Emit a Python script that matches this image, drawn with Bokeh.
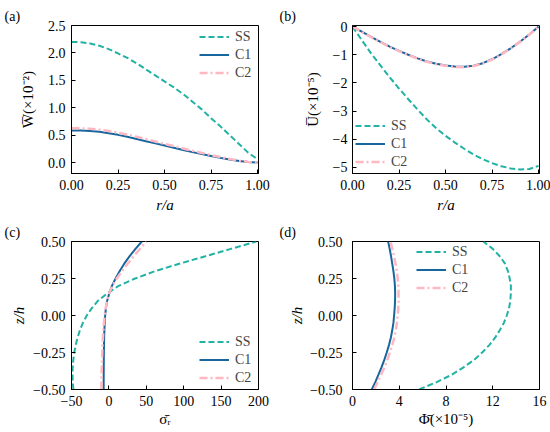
from bokeh.plotting import figure
from bokeh.models import FixedTicker, CustomJSTickFormatter, Title, Legend, LegendItem, Range1d
from bokeh.layouts import gridplot
from bokeh.embed import file_html
from bokeh.resources import INLINE

FONT = "Liberation Serif"
SS_COLOR = "#22B2A4"
C1_COLOR = "#17669E"
C2_COLOR = "#FFB8C2"

# ---- data ----
r_a = [0.00, 0.05, 0.10, 0.15, 0.20, 0.25, 0.30, 0.35, 0.40, 0.45, 0.50,
       0.55, 0.60, 0.65, 0.70, 0.75, 0.80, 0.85, 0.90, 0.95, 1.00]
W_SS = [2.20, 2.195, 2.17, 2.13, 2.07, 1.99, 1.91, 1.81, 1.70, 1.59, 1.48,
        1.37, 1.25, 1.11, 0.97, 0.81, 0.66, 0.50, 0.34, 0.18, 0.06]
W_C1 = [0.585, 0.583, 0.575, 0.56, 0.535, 0.505, 0.47, 0.43, 0.39, 0.35, 0.31,
        0.27, 0.23, 0.19, 0.155, 0.12, 0.085, 0.055, 0.03, 0.01, 0.0]
W_C2 = [0.625, 0.623, 0.615, 0.60, 0.575, 0.545, 0.51, 0.47, 0.43, 0.385, 0.34,
        0.30, 0.255, 0.215, 0.175, 0.135, 0.10, 0.065, 0.035, 0.012, 0.0]

U_SS = [0.0, -0.48, -0.95, -1.38, -1.80, -2.20, -2.58, -2.95, -3.30, -3.61, -3.88,
        -4.12, -4.34, -4.54, -4.71, -4.85, -4.96, -5.04, -5.08, -5.06, -4.95]
U_C1 = [0.0, -0.18, -0.36, -0.54, -0.71, -0.86, -1.00, -1.13, -1.24, -1.32, -1.38,
        -1.42, -1.43, -1.39, -1.30, -1.16, -0.98, -0.77, -0.54, -0.28, 0.0]
U_C2 = [0.0, -0.18, -0.37, -0.55, -0.72, -0.87, -1.01, -1.14, -1.25, -1.33, -1.39,
        -1.43, -1.44, -1.40, -1.31, -1.17, -0.99, -0.78, -0.55, -0.29, 0.0]

z_h = [-0.50, -0.45, -0.40, -0.35, -0.30, -0.25, -0.20, -0.15, -0.10, -0.05, 0.00,
       0.05, 0.10, 0.15, 0.20, 0.25, 0.30, 0.35, 0.40, 0.45, 0.50]
S_SS = [-47.5, -48.3, -48.6, -48.4, -47.6, -46.3, -44.4, -41.9, -38.8, -34.8, -29.6,
        -22.8, -14.5, -2.0, 13.0, 35.0, 62.0, 94.0, 129.0, 163.0, 197.0]
S_C1 = [-7.0, -7.0, -6.95, -6.9, -6.8, -6.7, -6.55, -6.35, -6.05, -5.6, -5.0,
        -4.0, -2.3, 0.5, 4.0, 9.0, 14.5, 20.5, 27.5, 35.5, 44.0]
S_C2 = [-10.0, -9.9, -9.7, -9.5, -9.2, -8.9, -8.5, -8.0, -7.4, -6.6, -5.6,
        -4.3, -2.5, 0.3, 4.5, 10.5, 17.5, 25.0, 33.0, 41.5, 50.0]

P_SS = [5.7, 7.2, 8.5, 9.5, 10.4, 11.1, 11.7, 12.2, 12.6, 12.95, 13.2,
        13.4, 13.5, 13.55, 13.55, 13.45, 13.3, 13.05, 12.6, 12.0, 11.2]
P_C1 = [1.65, 1.95, 2.22, 2.48, 2.72, 2.93, 3.12, 3.28, 3.40, 3.50, 3.56,
        3.61, 3.64, 3.65, 3.63, 3.58, 3.50, 3.40, 3.30, 3.18, 3.05]
P_C2 = [1.85, 2.15, 2.45, 2.73, 2.98, 3.20, 3.40, 3.57, 3.70, 3.80, 3.87,
        3.92, 3.94, 3.94, 3.92, 3.87, 3.79, 3.68, 3.55, 3.40, 3.25]

series_names = ["SS", "C1", "C2"]

a_xticks = [0.0, 0.25, 0.5, 0.75, 1.0]
a_yticks = [0.0, 0.5, 1.0, 1.5, 2.0, 2.5]
b_xticks = [0.0, 0.25, 0.5, 0.75, 1.0]
b_yticks = [0, -1, -2, -3, -4, -5]
c_xticks = [-50, 0, 50, 100, 150, 200]
c_yticks = [-0.5, -0.25, 0.0, 0.25, 0.5]
d_xticks = [0, 4, 8, 12, 16]
d_yticks = [-0.5, -0.25, 0.0, 0.25, 0.5]


def fmt(dec):
    return CustomJSTickFormatter(code="return tick.toFixed(%d).replace('-', '\\u2212');" % dec)


def make_fig(w, h, bl, br, bt, bb, xr, yr, tag, tag_offset):
    p = figure(width=w, height=h, x_range=Range1d(*xr), y_range=Range1d(*yr),
               output_backend="svg", toolbar_location=None,
               min_border_left=bl, min_border_right=br,
               min_border_top=bt, min_border_bottom=bb,
               background_fill_color="white", border_fill_color="white")
    p.title = Title(text=tag, align="left", offset=tag_offset, standoff=4,
                    text_font=FONT, text_font_size="14px", text_font_style="normal",
                    text_color="black")
    p.grid.visible = False
    p.outline_line_color = "black"
    p.outline_line_width = 1
    p.outline_line_alpha = 1.0
    for ax in p.axis:
        ax.axis_line_color = "black"
        ax.major_tick_line_color = "black"
        ax.major_tick_in = 4
        ax.major_tick_out = 0
        ax.minor_tick_line_color = None
        ax.major_label_text_font = FONT
        ax.major_label_text_font_size = "14px"
        ax.major_label_text_color = "black"
        ax.axis_label_text_font = FONT
        ax.axis_label_text_font_size = "15px"
        ax.axis_label_text_color = "black"
        ax.axis_label_text_font_style = "normal"
        ax.major_label_standoff = 6
    return p


def add_lines(p, xs, ys):
    r1 = p.line(xs[0], ys[0], line_color=SS_COLOR, line_width=2, line_dash="6 3")
    r2 = p.line(xs[1], ys[1], line_color=C1_COLOR, line_width=2)
    r3 = p.line(xs[2], ys[2], line_color=C2_COLOR, line_width=2.5, line_dash="8 3 2 3")
    return [r1, r2, r3]


def add_legend(p, rends, location, margin=1):
    leg = Legend(items=[LegendItem(label=n, renderers=[r]) for n, r in zip(series_names, rends)],
                 location=location, margin=margin, padding=2, spacing=1,
                 glyph_width=30, glyph_height=17, label_height=17, label_standoff=6,
                 label_text_font=FONT, label_text_font_size="14px",
                 background_fill_alpha=0, border_line_alpha=0)
    p.add_layout(leg)


# (a)
pa = make_fig(278, 218, 71, 20, 25, 45, (0, 1.005), (-0.2, 2.5), "(a)", -67)
ra = add_lines(pa, [r_a, r_a, r_a], [W_SS, W_C1, W_C2])
pa.xaxis.ticker = FixedTicker(ticks=a_xticks)
pa.yaxis.ticker = FixedTicker(ticks=a_yticks)
pa.xaxis.formatter = fmt(2)
pa.yaxis.formatter = fmt(1)
pa.xaxis.axis_label = "r/a"
pa.xaxis.axis_label_text_font_style = "italic"
pa.yaxis.axis_label = "W\u0305(\u00d710\u207b\u00b2)"
pa.yaxis.axis_label_standoff = 9
pa.xaxis.axis_label_standoff = 4
add_legend(pa, ra, "top_right")

# (b)
pb = make_fig(272, 218, 74, 11, 25, 45, (0, 1.005), (-5.22, 0.04), "(b)", -73)
rb = add_lines(pb, [r_a, r_a, r_a], [U_SS, U_C1, U_C2])
pb.xaxis.ticker = FixedTicker(ticks=b_xticks)
pb.yaxis.ticker = FixedTicker(ticks=b_yticks)
pb.xaxis.formatter = fmt(2)
pb.yaxis.formatter = fmt(0)
pb.xaxis.axis_label = "r/a"
pb.xaxis.axis_label_text_font_style = "italic"
pb.yaxis.axis_label = "U\u0305(\u00d710\u207b\u2075)"
pb.yaxis.axis_label_standoff = 9
pb.yaxis.major_label_standoff = 5
pb.xaxis.axis_label_standoff = 4
add_legend(pb, rb, "bottom_left")

# (c)
pc = make_fig(278, 214, 71, 20, 23, 43, (-50, 200), (-0.5, 0.5), "(c)", -67)
rc = add_lines(pc, [S_SS, S_C1, S_C2], [z_h, z_h, z_h])
pc.xaxis.ticker = FixedTicker(ticks=c_xticks)
pc.yaxis.ticker = FixedTicker(ticks=c_yticks)
pc.xaxis.formatter = fmt(0)
pc.yaxis.formatter = fmt(2)
pc.xaxis.axis_label = "\u03c3\u0304\u1d63"
pc.yaxis.axis_label = "z/h"
pc.yaxis.axis_label_text_font_style = "italic"
pc.yaxis.axis_label_standoff = 3
pc.xaxis.axis_label_standoff = 2
add_legend(pc, rc, "bottom_right")

# (d)
pd_ = make_fig(272, 214, 74, 11, 23, 43, (0, 16), (-0.5, 0.5), "(d)", -73)
rd = add_lines(pd_, [P_SS, P_C1, P_C2], [z_h, z_h, z_h])
pd_.xaxis.ticker = FixedTicker(ticks=d_xticks)
pd_.yaxis.ticker = FixedTicker(ticks=d_yticks)
pd_.xaxis.formatter = fmt(0)
pd_.yaxis.formatter = fmt(2)
pd_.xaxis.axis_label = "\u03a6\u0304(\u00d710\u207b\u2075)"
pd_.yaxis.axis_label = "z/h"
pd_.yaxis.axis_label_text_font_style = "italic"
pd_.yaxis.axis_label_standoff = 2
pd_.yaxis.major_label_standoff = 10
pd_.xaxis.axis_label_standoff = 2
add_legend(pd_, rd, (62, 91))

grid = gridplot([[pa, pb], [pc, pd_]], toolbar_location=None)

open("out.html", "w").write(file_html(grid, INLINE))
